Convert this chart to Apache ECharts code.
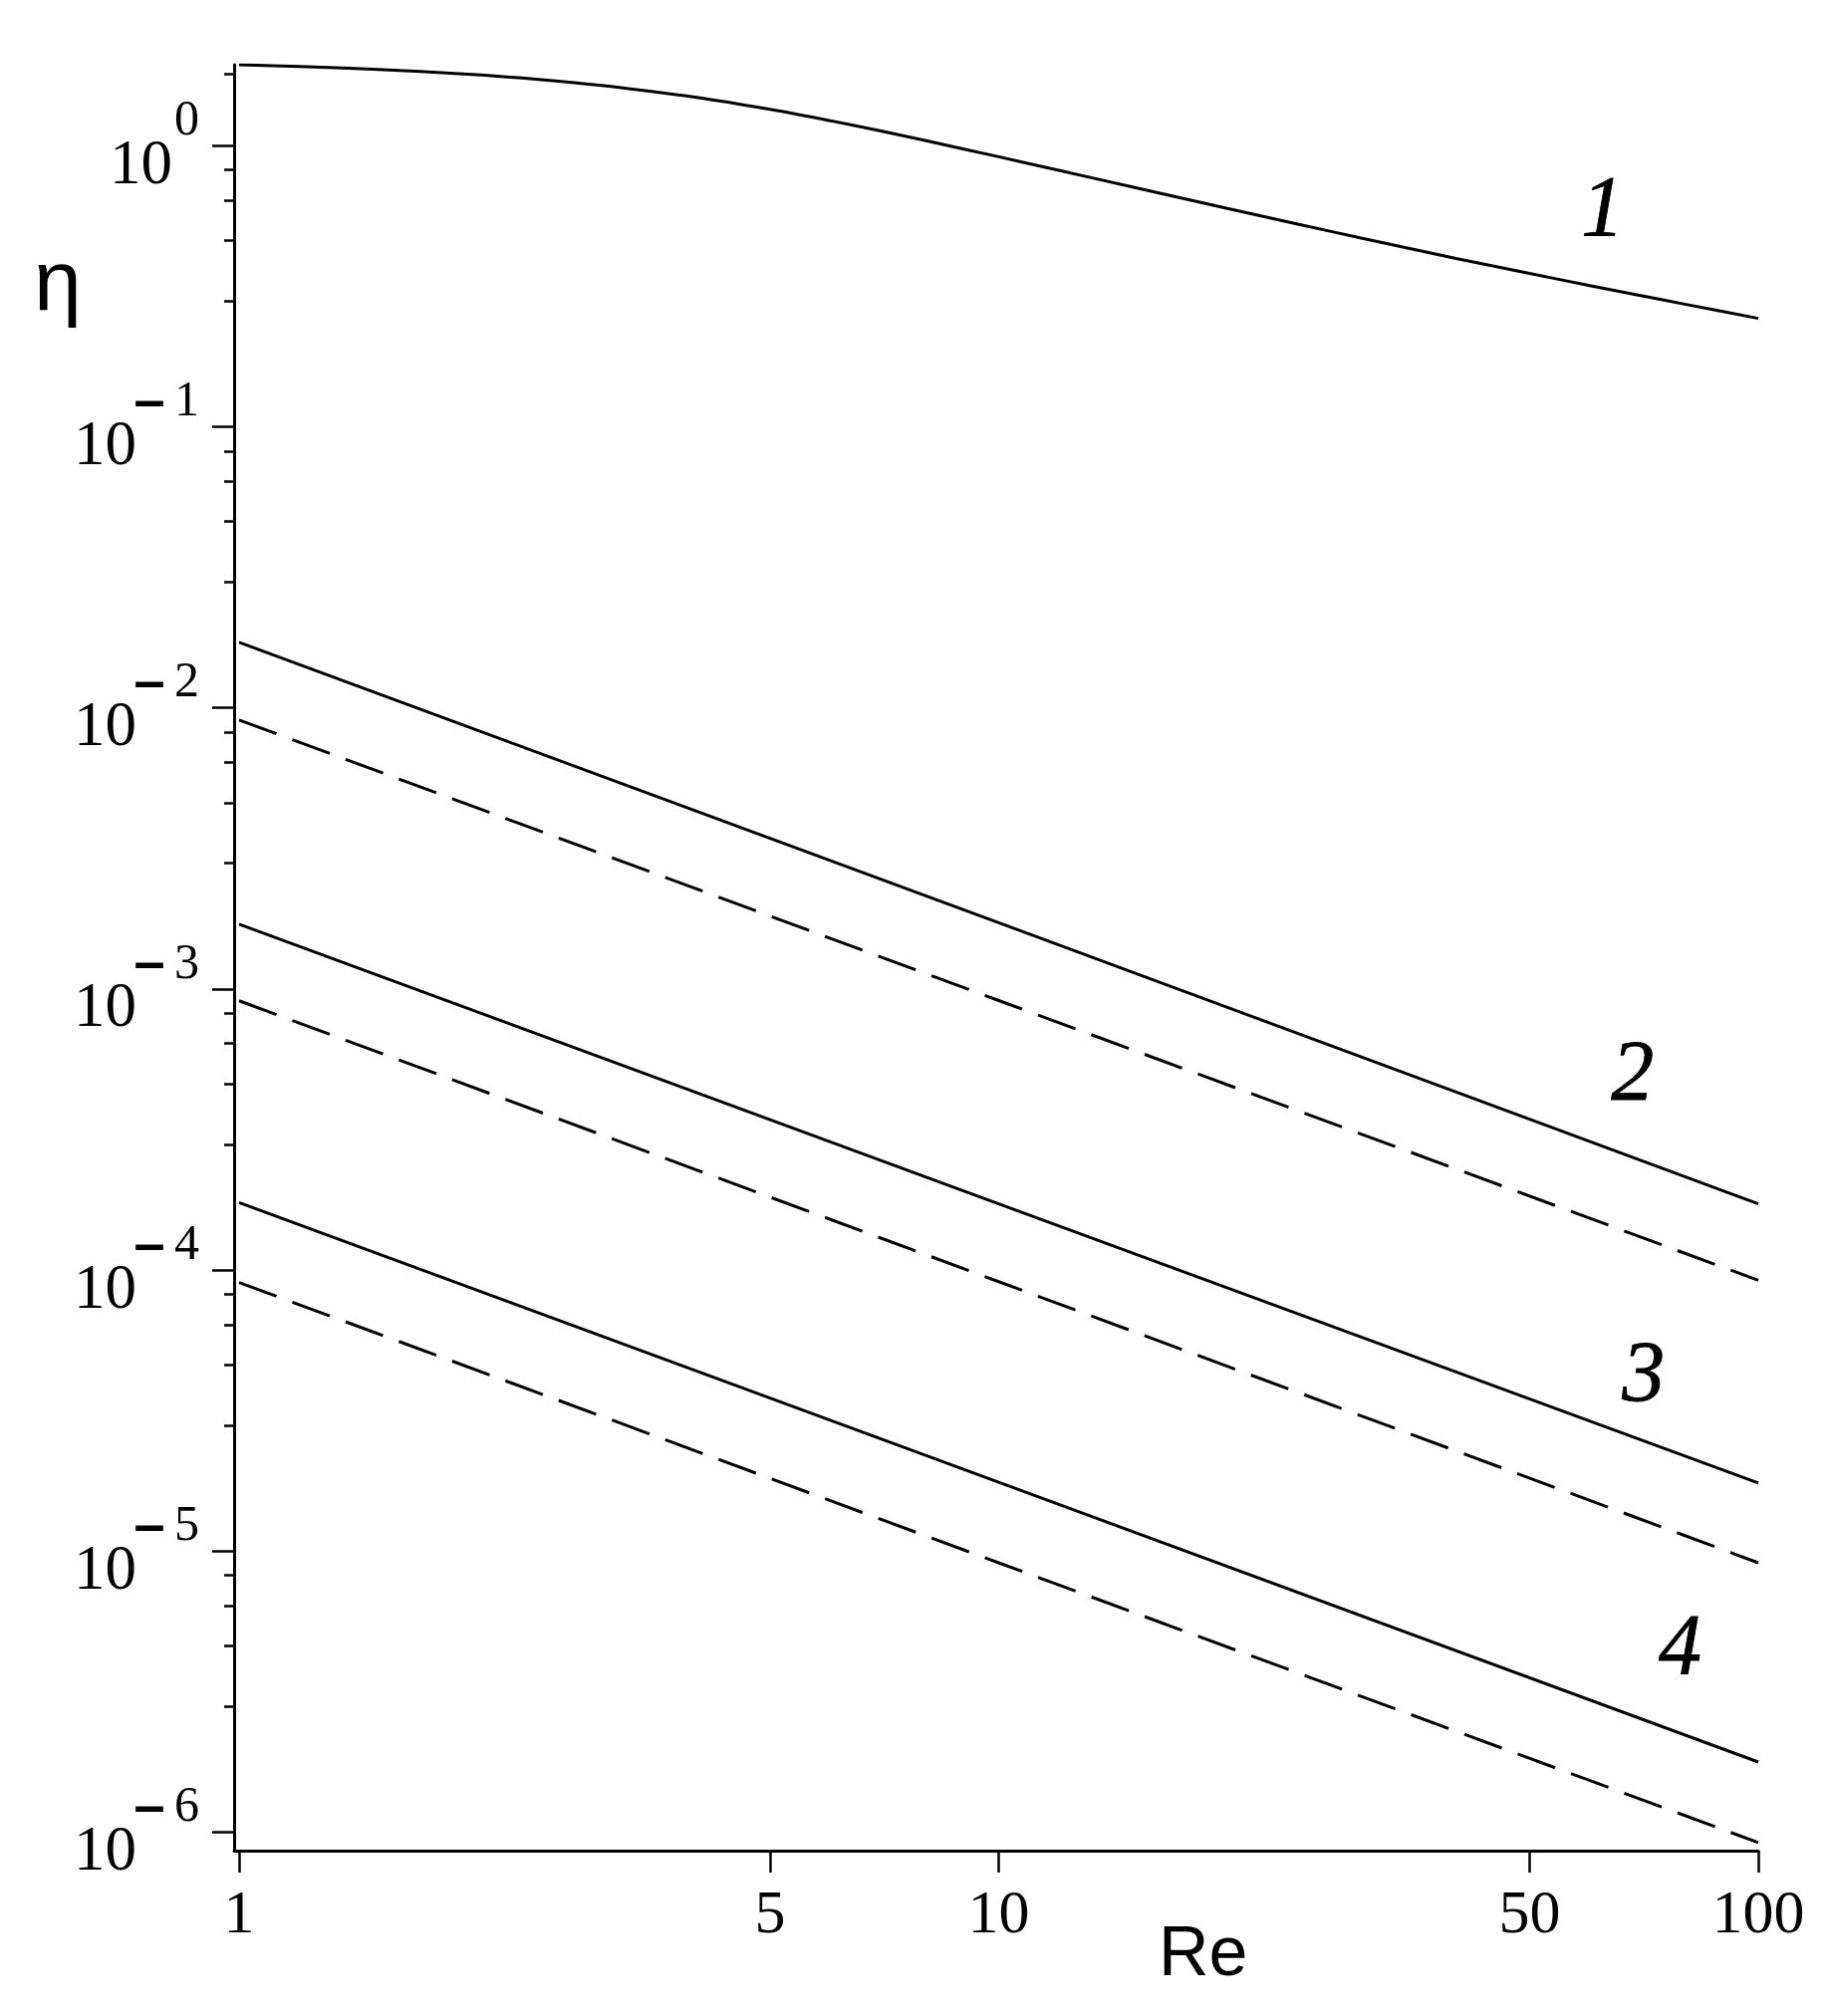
<!DOCTYPE html>
<html>
<head>
<meta charset="utf-8">
<script src="https://cdn.jsdelivr.net/npm/echarts@6/dist/echarts.min.js"></script>
<style>
html, body { margin: 0; padding: 0; background: #ffffff; }
#chart { width: 1840px; height: 2024px; }
</style>
</head>
<body>
<div id="chart"></div>
<script>
// ---- data ----
const reTicks = [1, 5, 10, 50, 100];
const etaMajorTicks = [1e-6, 1e-5, 1e-4, 1e-3, 1e-2, 1e-1, 1];
const etaMinorTicks = [
  2.8e-6, 4.6e-6, 6.4e-6, 8.2e-6,
  2.8e-5, 4.6e-5, 6.4e-5, 8.2e-5,
  2.8e-4, 4.6e-4, 6.4e-4, 8.2e-4,
  2.8e-3, 4.6e-3, 6.4e-3, 8.2e-3,
  2.8e-2, 4.6e-2, 6.4e-2, 8.2e-2,
  2.8e-1, 4.6e-1, 6.4e-1, 8.2e-1,
  1.8
];

// curve 1 (solid)
const re1 = [1, 1.2, 1.5, 2, 2.5, 3, 4, 5, 6, 7, 8, 10, 12, 15, 20, 25, 30, 40, 50, 60, 70, 80, 100];
const eta1 = [1.940, 1.912, 1.870, 1.796, 1.718, 1.638, 1.485, 1.346, 1.227, 1.127, 1.043, 0.913,
              0.817, 0.713, 0.598, 0.523, 0.469, 0.397, 0.351, 0.318, 0.293, 0.273, 0.243];

// curves 2-4 (solid and dashed)
const reLine = [1, 10, 100];
const eta2Solid = [1.71e-2, 1.72e-3, 1.72e-4];
const eta2Dash  = [9.06e-3, 9.10e-4, 9.20e-5];
const eta3Solid = [1.70e-3, 1.72e-4, 1.75e-5];
const eta3Dash  = [9.08e-4, 9.10e-5, 9.10e-6];
const eta4Solid = [1.74e-4, 1.76e-5, 1.78e-6];
const eta4Dash  = [9.04e-5, 9.10e-6, 9.20e-7];

// curve number labels
const curveNames = ['1', '2', '3', '4'];
const labelRe  = [62.4, 68.3, 70.6, 78.9];
const labelEta = [0.58, 4.87e-4, 4.14e-5, 4.43e-6];

// ---- build ----
function zip(xs, ys) { return xs.map((x, i) => [x, ys[i]]); }

const SERIF = '"Liberation Serif", "Times New Roman", serif';
const SANS = '"Liberation Sans", Arial, sans-serif';

function yLabel(v) {
  const n = Math.round(Math.log10(v));
  if (n === 0) return '{s|0}\n{b0|10}';
  return '{d|\u2013}{s| ' + (-n) + '}\n{bn|10}';
}

function lineSeries(xs, ys, dashed) {
  return {
    type: 'line',
    data: zip(xs, ys),
    showSymbol: false,
    symbol: 'none',
    silent: true,
    lineStyle: { color: '#000', width: 3, type: dashed ? [40, 17] : 'solid', cap: 'butt' },
    z: 3
  };
}

const chart = echarts.init(document.getElementById('chart'), null, { renderer: 'canvas' });

const option = {
  backgroundColor: '#ffffff',
  animation: false,
  grid: { left: 235, right: 75, top: 65, bottom: 166, containLabel: false, outerBoundsMode: 'none' },
  xAxis: {
    type: 'log',
    logBase: 10,
    min: 0.985,
    max: 100,
    axisLine: { show: true, onZero: false, lineStyle: { color: '#000', width: 3 } },
    axisTick: { show: true, customValues: reTicks, length: 22, lineStyle: { color: '#000', width: 2.5 } },
    axisLabel: { show: true, customValues: reTicks, margin: 35, fontSize: 62, fontFamily: SERIF, color: '#000' },
    splitLine: { show: false },
    minorTick: { show: false }
  },
  yAxis: [
    {
      type: 'log',
      logBase: 10,
      min: 8.61e-7,
      max: 1.94,
      axisLine: { show: true, onZero: false, lineStyle: { color: '#000', width: 3 } },
      axisTick: { show: true, customValues: etaMajorTicks, length: 22, lineStyle: { color: '#000', width: 2.5 } },
      axisLabel: {
        show: true,
        customValues: etaMajorTicks,
        margin: 35,
        padding: [6, 0, 0, 0],
        color: '#000',
        formatter: yLabel,
        rich: {
          s:  { fontSize: 50, fontFamily: SERIF, lineHeight: 36, color: '#000' },
          d:  { fontSize: 50, fontFamily: SERIF, fontWeight: 'bold', lineHeight: 36, color: '#000',
                textBorderColor: '#000', textBorderWidth: 2 },
          b0: { fontSize: 63, fontFamily: SERIF, lineHeight: 55, color: '#000', padding: [0, 27, 0, 0] },
          bn: { fontSize: 63, fontFamily: SERIF, lineHeight: 55, color: '#000', padding: [0, 63, 0, 0] }
        }
      },
      splitLine: { show: false }
    },
    {
      type: 'log',
      logBase: 10,
      min: 8.61e-7,
      max: 1.94,
      position: 'left',
      axisLine: { show: false },
      axisTick: { show: true, customValues: etaMinorTicks, length: 10, lineStyle: { color: '#000', width: 2.5 } },
      axisLabel: { show: false },
      splitLine: { show: false }
    }
  ],
  graphic: [
    { type: 'text', left: 34, top: 244, silent: true,
      style: { text: '\u03b7', font: '86px ' + SANS, fill: '#000' } },
    { type: 'text', left: 1163, top: 1929, silent: true,
      style: { text: 'Re', font: '70px ' + SANS, fill: '#000' } }
  ],
  series: [
    Object.assign(lineSeries(re1, eta1, false), { smooth: 0.3 }),
    lineSeries(reLine, eta2Solid, false),
    lineSeries(reLine, eta2Dash, true),
    lineSeries(reLine, eta3Solid, false),
    lineSeries(reLine, eta3Dash, true),
    lineSeries(reLine, eta4Solid, false),
    lineSeries(reLine, eta4Dash, true),
    {
      type: 'scatter',
      silent: true,
      symbolSize: 0,
      itemStyle: { opacity: 1, color: '#000' },
      data: curveNames.map((n, i) => ({ name: n, value: [labelRe[i], labelEta[i]] })),
      label: {
        show: true,
        position: 'inside',
        formatter: p => p.name,
        fontFamily: SERIF,
        fontStyle: 'italic',
        fontSize: 86,
        color: '#000',
        opacity: 1,
        textBorderColor: '#000',
        textBorderWidth: 0.8
      },
      z: 4
    }
  ]
};

chart.setOption(option);
</script>
</body>
</html>
